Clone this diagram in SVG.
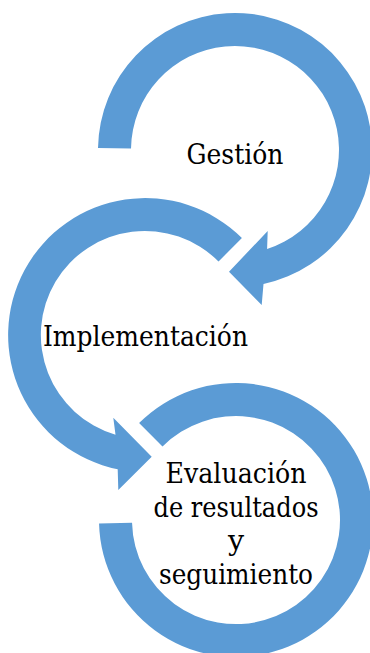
<svg xmlns="http://www.w3.org/2000/svg" width="370" height="653" viewBox="0 0 370 653">
<style>
.arc{fill:#5B9BD5;stroke:none}
.lbl{font-family:'DejaVu Serif',serif;font-size:28.5px;fill:#000000;text-anchor:middle}
</style>
<rect width="370" height="653" fill="#FFFFFF"/>
<g id="connectors">
</g>
<g id="node-gestion">
<path class="arc" d="M 98 148.1 A 137 137 0 1 1 263.5 284 L 261.7 305 L 229 271.7 L 267.7 231 L 267.1 248.9 A 104 104 0 1 0 131 148.5 Z"/>
<text class="lbl" x="235" y="164" textLength="97" lengthAdjust="spacingAndGlyphs">Gestión</text>
</g>
<g id="node-implementacion">
<path class="arc" d="M 241.9 238.1 A 137 137 0 1 0 117.7 469.3 L 118.3 490 L 151.7 456.7 L 113.3 417.7 L 115.5 434.7 A 104 104 0 1 1 218.5 261.5 Z"/>
<text class="lbl" x="145.5" y="346" textLength="205" lengthAdjust="spacingAndGlyphs">Implementación</text>
</g>
<g id="node-evaluacion">
<path class="arc" d="M 139.1 423.1 A 137 137 0 1 1 99.05 523.6 L 132.04 522.7 A 104 104 0 1 0 162.5 446.5 Z"/>
<text class="lbl" x="236" y="483" textLength="141" lengthAdjust="spacingAndGlyphs">Evaluación</text>
<text class="lbl" x="236" y="517" textLength="165" lengthAdjust="spacingAndGlyphs">de resultados</text>
<text class="lbl" x="236" y="550">y</text>
<text class="lbl" x="236" y="584" textLength="154" lengthAdjust="spacingAndGlyphs">seguimiento</text>
</g>
</svg>
